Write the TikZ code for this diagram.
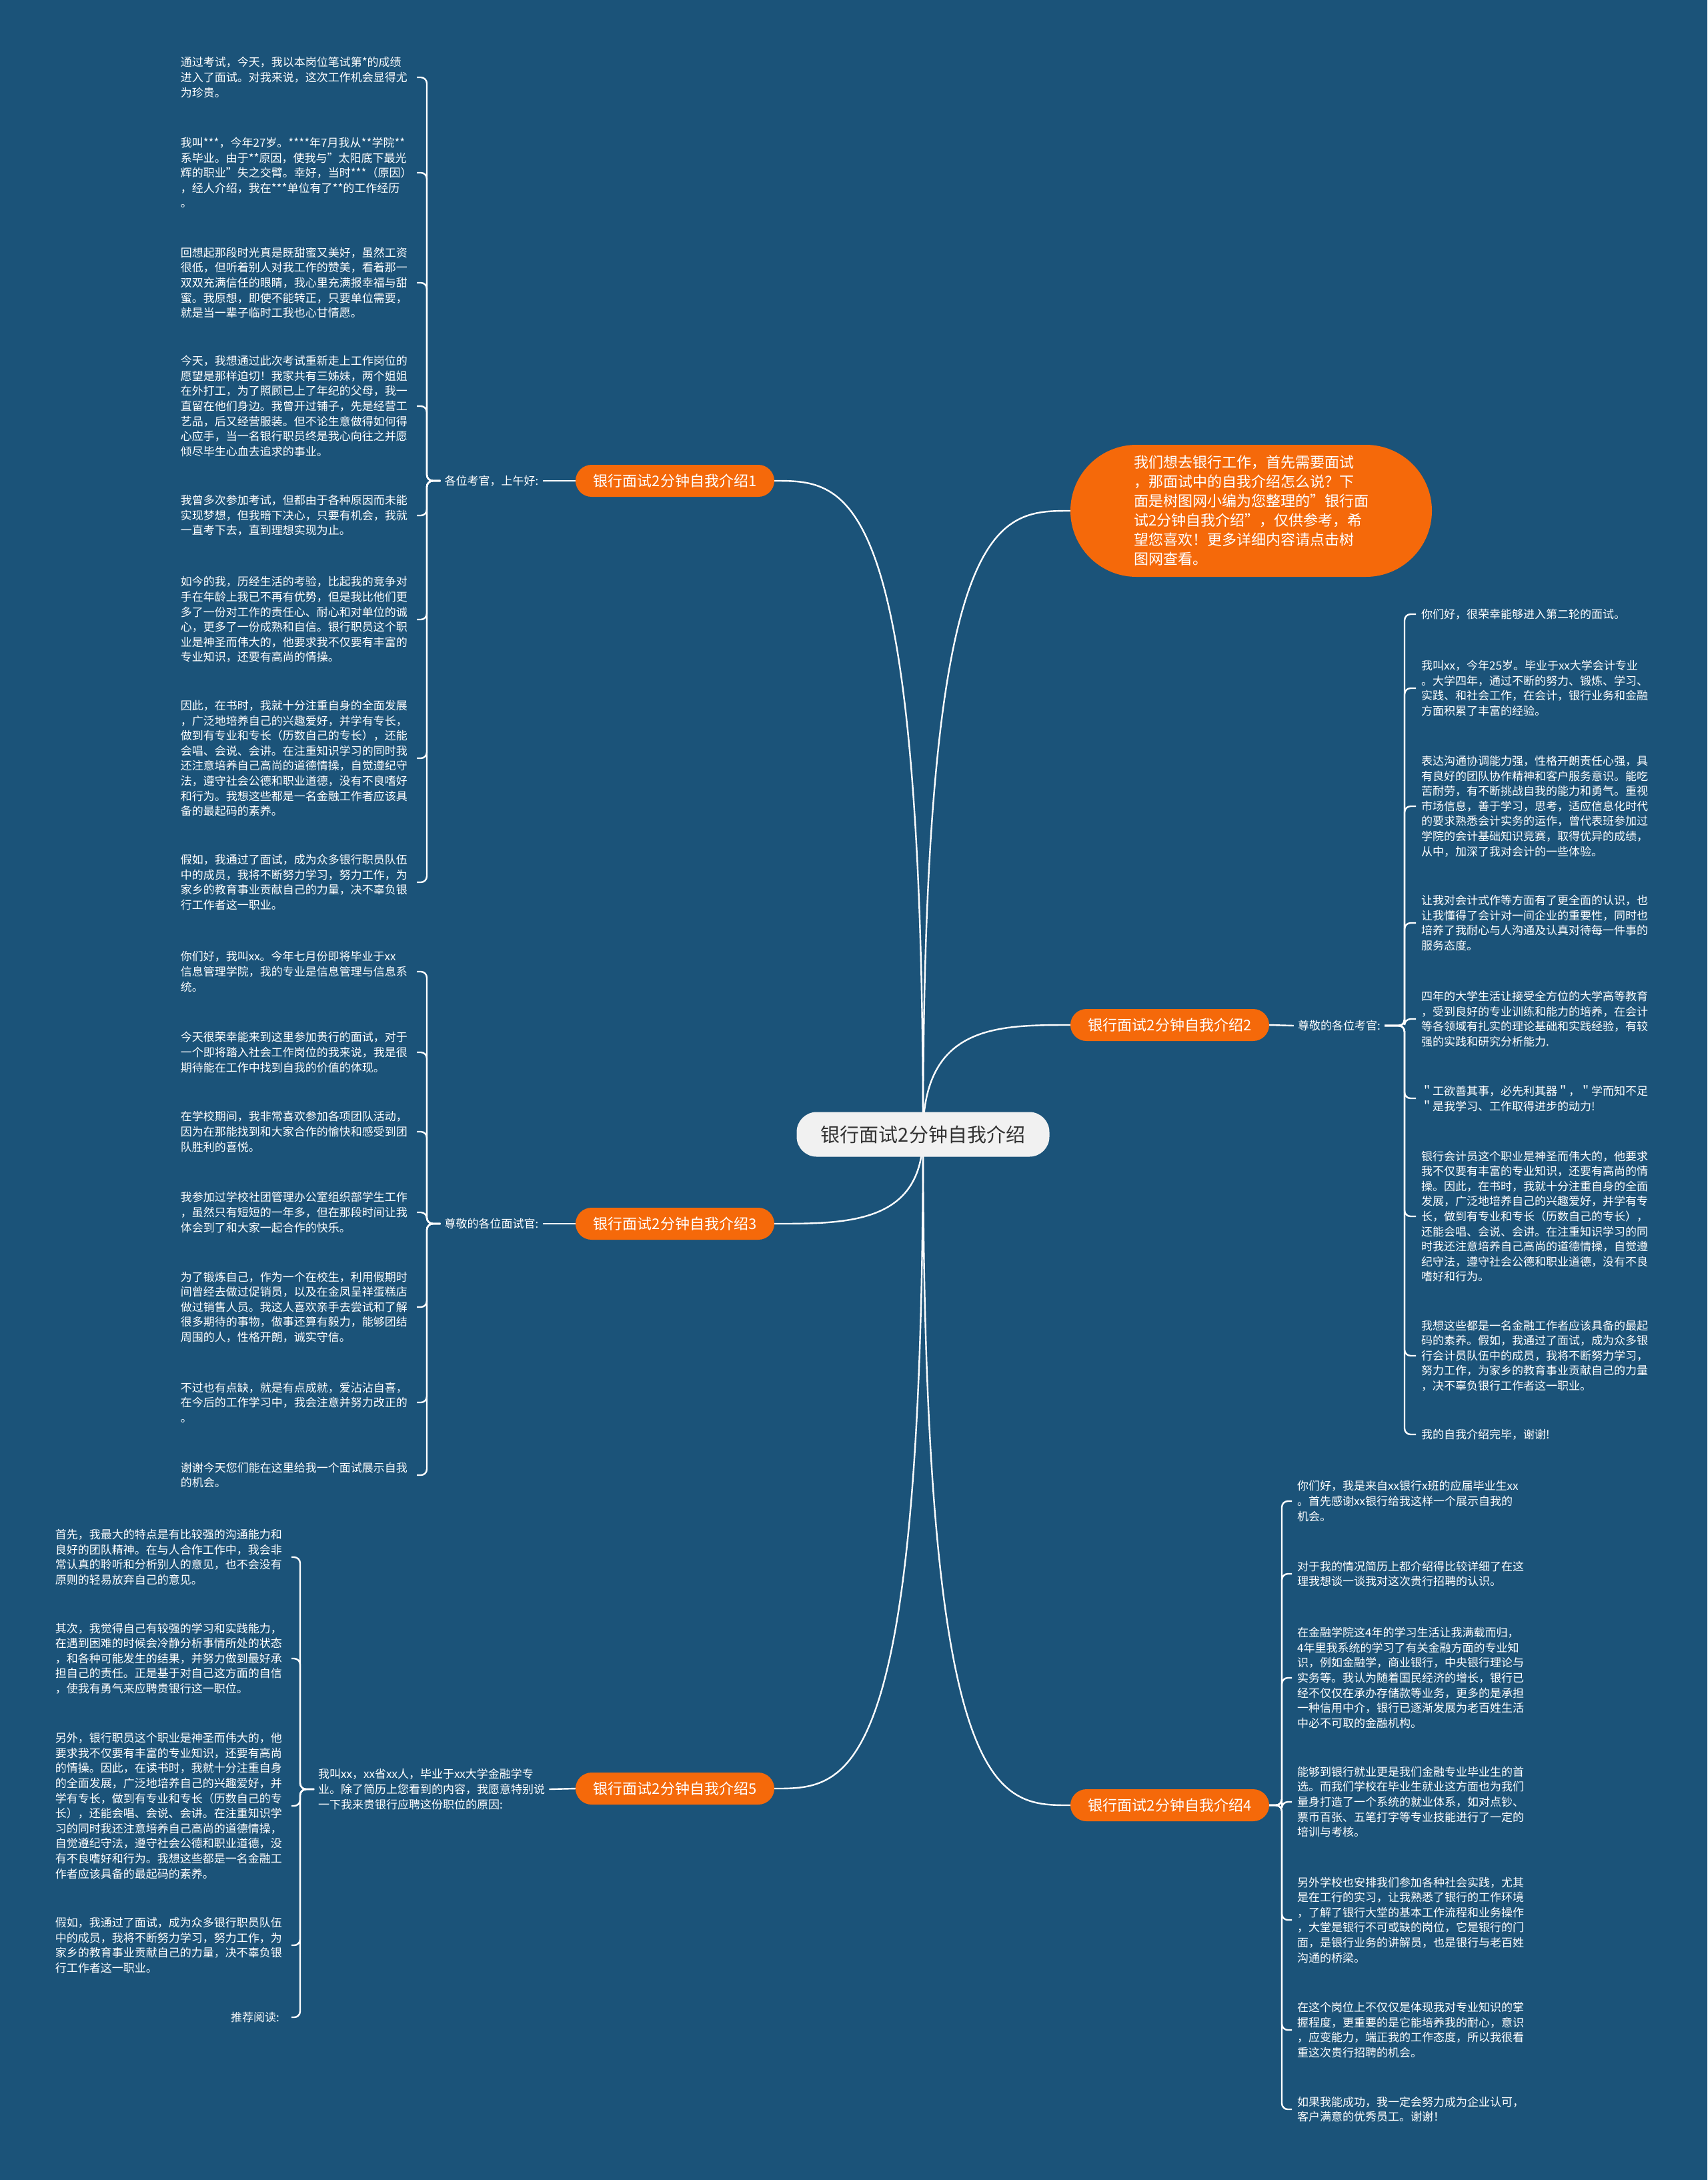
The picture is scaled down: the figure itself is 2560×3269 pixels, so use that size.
\documentclass[tikz,border=0pt]{standalone}
\usepackage{fontspec}
\setmainfont{Noto Sans CJK SC}
\definecolor{bgc}{HTML}{1B5379}
\definecolor{org}{HTML}{F5690A}
\definecolor{ctrfill}{HTML}{F1F1F1}
\definecolor{ctrtext}{HTML}{333333}
\pgfdeclarelayer{back}
\pgfdeclarelayer{mid}
\pgfsetlayers{back,mid,main}
\tikzset{
  conn/.style={draw=white, line width=2.4pt},
  brk/.style={conn, rounded corners=9pt},
  leafbase/.style={align=left, text width=346pt, inner xsep=8pt, inner ysep=0pt, text=white, font=\fontsize{17}{22.6}\selectfont},
  leafL/.style={leafbase, anchor=east},
  leafR/.style={leafbase, anchor=west},
  lab/.style={text=white, inner xsep=6pt, inner ysep=2pt, font=\fontsize{17}{22.6}\selectfont},
  branch/.style={fill=org, text=white, rounded corners=24pt, minimum width=298pt, minimum height=48pt, inner sep=0pt, font=\fontsize{22}{26}\selectfont},
  centre/.style={fill=ctrfill, text=ctrtext, rounded corners=30pt, minimum width=379pt, minimum height=67pt, inner sep=0pt, font=\fontsize{29}{34}\selectfont},
  callout/.style={fill=org, text=white, rounded corners=99pt, minimum width=542pt, minimum height=198pt, inner sep=0pt, align=left, font=\fontsize{22}{29}\selectfont}
}
\begin{document}
\begin{tikzpicture}[x=1pt,y=-1pt]
\useasboundingbox (0,0) rectangle (2560,3269);
\begin{pgfonlayer}{back}
\fill[bgc] (0,0) rectangle (2560,3269);
\end{pgfonlayer}

% main nodes
\node[centre] (c) at (1384,1701) {银行面试2分钟自我介绍};
\node[branch] (n1) at (1012,721) {银行面试2分钟自我介绍1};
\node[branch] (n3) at (1012,1835) {银行面试2分钟自我介绍3};
\node[branch] (n5) at (1012,2682) {银行面试2分钟自我介绍5};
\node[branch] (n2) at (1754,1537) {银行面试2分钟自我介绍2};
\node[branch] (n4) at (1754,2707) {银行面试2分钟自我介绍4};
\node[callout] (cl) at (1876,766) {我们想去银行工作，首先需要面试\\
，那面试中的自我介绍怎么说？下\\
面是树图网小编为您整理的"银行面\\
试2分钟自我介绍"，仅供参考，希\\
望您喜欢！更多详细内容请点击树\\
图网查看。};

% labels
\node[lab] (lab1) at (737,721) {各位考官，上午好:};
\node[lab] (lab3) at (737,1835) {尊敬的各位面试官:};
\node[lab] (lab2) at (2008,1538) {尊敬的各位考官:};
\node[lab, anchor=west, align=left] (lab5) at (471,2683) {我叫xx，xx省xx人，毕业于xx大学金融学专\\
业。除了简历上您看到的内容，我愿意特别说\\
一下我来贵银行应聘这份职位的原因:};

\coordinate (k1) at (640,721);
\coordinate (k3) at (640,1835);
\coordinate (k5) at (450,2683);
\coordinate (k2) at (2106,1538);
\coordinate (k4) at (1922,2707);

% branch 1 leaves
\node[leafL] (b1) at (625,116) {通过考试，今天，我以本岗位笔试第*的成绩\\
进入了面试。对我来说，这次工作机会显得尤\\
为珍贵。};
\node[leafL] (b2) at (625,259) {我叫***，今年27岁。****年7月我从**学院**\\
系毕业。由于**原因，使我与"太阳底下最光\\
辉的职业"失之交臂。幸好，当时***（原因）\\
，经人介绍，我在***单位有了**的工作经历\\
。};
\node[leafL] (b3) at (625,424) {回想起那段时光真是既甜蜜又美好，虽然工资\\
很低，但听着别人对我工作的赞美，看着那一\\
双双充满信任的眼睛，我心里充满报幸福与甜\\
蜜。我原想，即使不能转正，只要单位需要，\\
就是当一辈子临时工我也心甘情愿。};
\node[leafL] (b4) at (625,609) {今天，我想通过此次考试重新走上工作岗位的\\
愿望是那样迫切！我家共有三姊妹，两个姐姐\\
在外打工，为了照顾已上了年纪的父母，我一\\
直留在他们身边。我曾开过铺子，先是经营工\\
艺品，后又经营服装。但不论生意做得如何得\\
心应手，当一名银行职员终是我心向往之并愿\\
倾尽毕生心血去追求的事业。};
\node[leafL] (b5) at (625,773) {我曾多次参加考试，但都由于各种原因而未能\\
实现梦想，但我暗下决心，只要有机会，我就\\
一直考下去，直到理想实现为止。};
\node[leafL] (b6) at (625,929) {如今的我，历经生活的考验，比起我的竞争对\\
手在年龄上我已不再有优势，但是我比他们更\\
多了一份对工作的责任心、耐心和对单位的诚\\
心，更多了一份成熟和自信。银行职员这个职\\
业是神圣而伟大的，他要求我不仅要有丰富的\\
专业知识，还要有高尚的情操。};
\node[leafL] (b7) at (625,1137) {因此，在书时，我就十分注重自身的全面发展\\
，广泛地培养自己的兴趣爱好，并学有专长，\\
做到有专业和专长（历数自己的专长），还能\\
会唱、会说、会讲。在注重知识学习的同时我\\
还注意培养自己高尚的道德情操，自觉遵纪守\\
法，遵守社会公德和职业道德，没有不良嗜好\\
和行为。我想这些都是一名金融工作者应该具\\
备的最起码的素养。};
\node[leafL] (b8) at (625,1323) {假如，我通过了面试，成为众多银行职员队伍\\
中的成员，我将不断努力学习，努力工作，为\\
家乡的教育事业贡献自己的力量，决不辜负银\\
行工作者这一职业。};

% branch 3 leaves
\node[leafL] (f1) at (625,1457) {你们好，我叫xx。今年七月份即将毕业于xx\\
信息管理学院，我的专业是信息管理与信息系\\
统。};
\node[leafL] (f2) at (625,1578) {今天很荣幸能来到这里参加贵行的面试，对于\\
一个即将踏入社会工作岗位的我来说，我是很\\
期待能在工作中找到自我的价值的体现。};
\node[leafL] (f3) at (625,1697) {在学校期间，我非常喜欢参加各项团队活动，\\
因为在那能找到和大家合作的愉快和感受到团\\
队胜利的喜悦。};
\node[leafL] (f4) at (625,1818) {我参加过学校社团管理办公室组织部学生工作\\
，虽然只有短短的一年多，但在那段时间让我\\
体会到了和大家一起合作的快乐。};
\node[leafL] (f5) at (625,1960) {为了锻炼自己，作为一个在校生，利用假期时\\
间曾经去做过促销员，以及在金凤呈祥蛋糕店\\
做过销售人员。我这人喜欢亲手去尝试和了解\\
很多期待的事物，做事还算有毅力，能够团结\\
周围的人，性格开朗，诚实守信。};
\node[leafL] (f6) at (625,2103) {不过也有点缺，就是有点成就，爱沾沾自喜，\\
在今后的工作学习中，我会注意并努力改正的\\
。};
\node[leafL] (f7) at (625,2212) {谢谢今天您们能在这里给我一个面试展示自我\\
的机会。};

% branch 5 leaves
\node[leafL] (e1) at (437,2335) {首先，我最大的特点是有比较强的沟通能力和\\
良好的团队精神。在与人合作工作中，我会非\\
常认真的聆听和分析别人的意见，也不会没有\\
原则的轻易放弃自己的意见。};
\node[leafL] (e2) at (437,2487) {其次，我觉得自己有较强的学习和实践能力，\\
在遇到困难的时候会冷静分析事情所处的状态\\
，和各种可能发生的结果，并努力做到最好承\\
担自己的责任。正是基于对自己这方面的自信\\
，使我有勇气来应聘贵银行这一职位。};
\node[leafL] (e3) at (437,2708) {另外，银行职员这个职业是神圣而伟大的，他\\
要求我不仅要有丰富的专业知识，还要有高尚\\
的情操。因此，在读书时，我就十分注重自身\\
的全面发展，广泛地培养自己的兴趣爱好，并\\
学有专长，做到有专业和专长（历数自己的专\\
长），还能会唱、会说、会讲。在注重知识学\\
习的同时我还注意培养自己高尚的道德情操，\\
自觉遵纪守法，遵守社会公德和职业道德，没\\
有不良嗜好和行为。我想这些都是一名金融工\\
作者应该具备的最起码的素养。};
\node[leafL] (e4) at (437,2917) {假如，我通过了面试，成为众多银行职员队伍\\
中的成员，我将不断努力学习，努力工作，为\\
家乡的教育事业贡献自己的力量，决不辜负银\\
行工作者这一职业。};
\node[lab, anchor=east, inner xsep=18pt] (e5) at (437,3025) {推荐阅读:};

% branch 2 leaves
\node[leafR] (c1) at (2123,921) {你们好，很荣幸能够进入第二轮的面试。};
\node[leafR] (c2) at (2123,1032) {我叫xx，今年25岁。毕业于xx大学会计专业\\
。大学四年，通过不断的努力、锻炼、学习、\\
实践、和社会工作，在会计，银行业务和金融\\
方面积累了丰富的经验。};
\node[leafR] (c3) at (2123,1209) {表达沟通协调能力强，性格开朗责任心强，具\\
有良好的团队协作精神和客户服务意识。能吃\\
苦耐劳，有不断挑战自我的能力和勇气。重视\\
市场信息，善于学习，思考，适应信息化时代\\
的要求熟悉会计实务的运作，曾代表班参加过\\
学院的会计基础知识竞赛，取得优异的成绩，\\
从中，加深了我对会计的一些体验。};
\node[leafR] (c4) at (2123,1384) {让我对会计式作等方面有了更全面的认识，也\\
让我懂得了会计对一间企业的重要性，同时也\\
培养了我耐心与人沟通及认真对待每一件事的\\
服务态度。};
\node[leafR] (c5) at (2123,1528) {四年的大学生活让接受全方位的大学高等教育\\
，受到良好的专业训练和能力的培养，在会计\\
等各领域有扎实的理论基础和实践经验，有较\\
强的实践和研究分析能力.};
\node[leafR] (c6) at (2123,1647) {＂工欲善其事，必先利其器＂，＂学而知不足\\
＂是我学习、工作取得进步的动力!};
\node[leafR] (c7) at (2123,1824) {银行会计员这个职业是神圣而伟大的，他要求\\
我不仅要有丰富的专业知识，还要有高尚的情\\
操。因此，在书时，我就十分注重自身的全面\\
发展，广泛地培养自己的兴趣爱好，并学有专\\
长，做到有专业和专长（历数自己的专长），\\
还能会唱、会说、会讲。在注重知识学习的同\\
时我还注意培养自己高尚的道德情操，自觉遵\\
纪守法，遵守社会公德和职业道德，没有不良\\
嗜好和行为。};
\node[leafR] (c8) at (2123,2033) {我想这些都是一名金融工作者应该具备的最起\\
码的素养。假如，我通过了面试，成为众多银\\
行会计员队伍中的成员，我将不断努力学习，\\
努力工作，为家乡的教育事业贡献自己的力量\\
，决不辜负银行工作者这一职业。};
\node[leafR] (c9) at (2123,2151) {我的自我介绍完毕，谢谢!};

% branch 4 leaves
\node[leafR] (d1) at (1937,2251) {你们好，我是来自xx银行x班的应届毕业生xx\\
。首先感谢xx银行给我这样一个展示自我的\\
机会。};
\node[leafR] (d2) at (1937,2360) {对于我的情况简历上都介绍得比较详细了在这\\
理我想谈一谈我对这次贵行招聘的认识。};
\node[leafR] (d3) at (1937,2516) {在金融学院这4年的学习生活让我满载而归，\\
4年里我系统的学习了有关金融方面的专业知\\
识，例如金融学，商业银行，中央银行理论与\\
实务等。我认为随着国民经济的增长，银行已\\
经不仅仅在承办存储款等业务，更多的是承担\\
一种信用中介，银行已逐渐发展为老百姓生活\\
中必不可取的金融机构。};
\node[leafR] (d4) at (1937,2702) {能够到银行就业更是我们金融专业毕业生的首\\
选。而我们学校在毕业生就业这方面也为我们\\
量身打造了一个系统的就业体系，如对点钞、\\
票币百张、五笔打字等专业技能进行了一定的\\
培训与考核。};
\node[leafR] (d5) at (1937,2879) {另外学校也安排我们参加各种社会实践，尤其\\
是在工行的实习，让我熟悉了银行的工作环境\\
，了解了银行大堂的基本工作流程和业务操作\\
，大堂是银行不可或缺的岗位，它是银行的门\\
面，是银行业务的讲解员，也是银行与老百姓\\
沟通的桥梁。};
\node[leafR] (d6) at (1937,3044) {在这个岗位上不仅仅是体现我对专业知识的掌\\
握程度，更重要的是它能培养我的耐心，意识\\
，应变能力，端正我的工作态度，所以我很看\\
重这次贵行招聘的机会。};
\node[leafR] (d7) at (1937,3163) {如果我能成功，我一定会努力成为企业认可，\\
客户满意的优秀员工。谢谢！};

% connectors
\begin{pgfonlayer}{mid}
\draw[conn] (c.center) .. controls (1384,721) and (1272,721) .. (n1.east);
\draw[conn] (c.center) .. controls (1384,1835) and (1272,1835) .. (n3.east);
\draw[conn] (c.center) .. controls (1384,2682) and (1272,2682) .. (n5.east);
\draw[conn] (c.center) .. controls (1384,766) and (1495,766) .. (cl.west);
\draw[conn] (c.center) .. controls (1384,1537) and (1495,1537) .. (n2.west);
\draw[conn] (c.center) .. controls (1384,2707) and (1495,2707) .. (n4.west);

\draw[conn] (n1.west) -- (lab1.east);
\draw[conn] (n3.west) -- (lab3.east);
\draw[conn] (n5.west) -- (lab5.east);
\draw[conn] (n2.east) -- (lab2.west);

\foreach \i in {1,...,8} \draw[brk] (lab1.west) -- (k1) |- (b\i.east);
\foreach \i in {1,...,7} \draw[brk] (lab3.west) -- (k3) |- (f\i.east);
\foreach \i in {1,...,5} \draw[brk] (lab5.west) -- (k5) |- (e\i.east);
\foreach \i in {1,...,9} \draw[brk] (lab2.east) -- (k2) |- (c\i.west);
\foreach \i in {1,...,7} \draw[brk] (n4.east) -- (k4) |- (d\i.west);
\end{pgfonlayer}
\end{tikzpicture}
\end{document}
